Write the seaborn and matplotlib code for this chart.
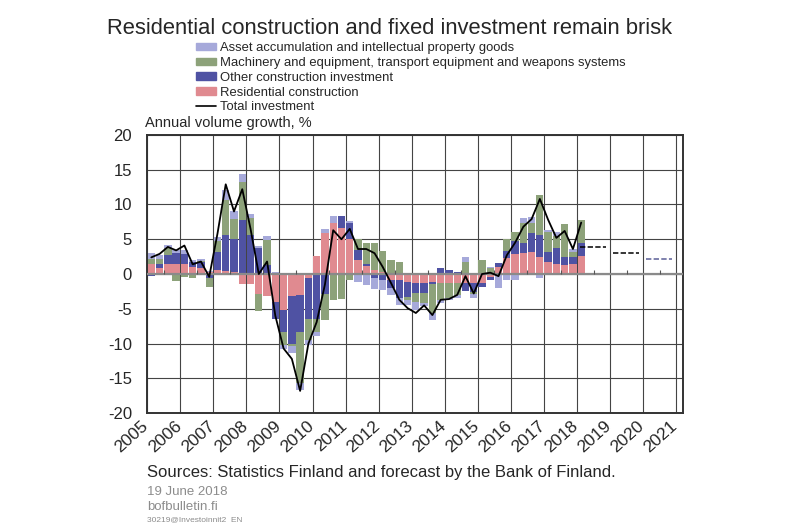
import numpy as np
import pandas as pd
import seaborn as sns
import matplotlib.pyplot as plt
from matplotlib.patches import Patch
from matplotlib.lines import Line2D
from matplotlib.transforms import ScaledTranslation

# Quarterly contributions, 2005Q1 - 2018Q1 (percentage points)
quarters = pd.period_range('2005Q1', '2018Q1', freq='Q')
residential = [1.5, 0.8, 1.5, 1.5, 1.4, 1.0, 0.8, 0.3, 0.6, 0.5, 0.3, -1.4,
               -1.4, -2.8, -3.2, -4.0, -5.1, -3.2, -3.0, -0.5, 2.6, 5.9, 7.3, 6.6,
               5.0, 2.0, 1.2, 0.6, 0.3, -0.8, -0.9, -1.1, -1.3, -1.3, -1.2, -1.3,
               -1.3, -1.3, -1.3, -1.3, -1.3, -0.4, 1.0, 2.3, 2.9, 3.0, 3.1, 2.4,
               1.7, 1.4, 1.3, 1.5, 2.6]
other_construction = [-0.3, 0.6, 1.2, 1.5, 1.5, 0.8, 1.0, -0.6, 2.5, 5.1, 4.7, 7.8,
                      5.6, 3.7, 1.3, -2.4, -3.2, -6.8, -5.3, -6.0, -6.5, -2.8, 0.0, 1.8,
                      2.3, 1.5, 0.3, -0.5, -0.8, -1.2, -2.6, -2.2, -1.4, -1.4, -0.2, 0.8,
                      0.6, 0.3, -1.2, -1.3, -0.6, -0.4, 0.6, 1.0, 1.8, 1.5, 2.8, 3.2,
                      1.4, 2.4, 1.2, 1.0, 1.8]
machinery = [0.7, 0.8, 1.0, -1.0, -0.4, -0.5, 0.1, -1.2, 1.6, 5.0, 2.9, 5.4,
             2.4, -2.5, 3.6, 0.2, -1.9, -0.4, -7.4, -3.0, -1.8, -3.8, -3.7, -3.6,
             -0.9, 1.6, 2.9, 3.8, 3.0, 2.0, 1.8, -0.5, -1.3, -1.4, -4.2, -2.4,
             -2.2, -1.7, 1.8, -0.3, 2.0, 0.8, -0.2, 1.7, 1.4, 2.9, 1.4, 5.8,
             2.9, 1.6, 4.7, 0.6, 3.4]
asset_ip = [0.8, 0.6, 0.5, 0.5, 0.5, 0.2, 0.2, 0.1, 0.6, 1.5, 1.1, 1.2,
            0.7, 0.3, 0.5, 0.1, -0.6, -0.9, -1.0, -0.7, -0.6, 0.6, 1.0, 0.0,
            0.3, -1.1, -1.6, -1.6, -1.5, -1.0, -1.0, -0.6, -1.1, -0.5, -1.0, -0.5,
            -0.2, -0.5, 0.7, -0.6, 0.0, 0.2, -1.8, -0.8, -0.9, 0.7, 0.9, -0.6,
            0.4, 0.6, 0.0, 0.5, -0.2]
total_investment = [2.4, 2.9, 3.9, 3.4, 4.1, 1.4, 1.8, -0.4, 5.8, 12.9, 9.0, 12.2,
                    6.5, 0.0, 1.8, -6.0, -10.7, -12.2, -16.8, -10.0, -6.9, -1.5, 6.3, 5.0,
                    6.5, 3.6, 3.6, 3.0, 1.0, -1.3, -3.7, -4.9, -5.6, -4.5, -5.9, -3.7,
                    -3.6, -3.0, -0.3, -2.8, 0.0, 0.2, -0.3, 2.7, 4.5, 6.8, 7.9, 10.8,
                    7.8, 5.2, 6.2, 3.6, 7.4]

# Bank of Finland forecast (annual)
forecast_years = [2018, 2019, 2020]
forecast_values = [3.9, 3.0, 2.2]
forecast_colors = ['black', 'black', '#5b5f97']

year_ticks = list(range(2005, 2022))

series = ['Residential construction', 'Other construction investment',
          'Machinery and equipment, transport equipment and weapons systems',
          'Asset accumulation and intellectual property goods']
colors = ['#e08a90', '#4f52a3', '#8da27a', '#a6a9da']

df = pd.DataFrame({'x': quarters.year + (quarters.quarter - 1) / 4 + 0.125})
for name, vals in zip(series, [residential, other_construction, machinery, asset_ip]):
    df[name] = vals
df['total'] = total_investment

# stacked positive / negative tops (drawn back to front)
pos = df[series].clip(lower=0).cumsum(axis=1)
neg = df[series].clip(upper=0).cumsum(axis=1)

sns.set_style('white')
plt.rcParams['font.family'] = ['Liberation Sans', 'DejaVu Sans']

fig = plt.figure(figsize=(8, 5.23), dpi=100)
ax = fig.add_axes([0.184, 0.21, 0.67, 0.532])

for i in range(len(series) - 1, -1, -1):
    for stack in (pos, neg):
        sns.barplot(x=df['x'], y=stack[series[i]], native_scale=True, width=0.88,
                    color=colors[i], saturation=1, errorbar=None, linewidth=0, ax=ax, zorder=2)

ax.axhline(0, color='#8a8a8a', lw=1.6, zorder=3)
ax.vlines(np.arange(2005, 2021) + 0.5, 0, 0.6, color='#555555', lw=0.8, zorder=3)

sns.lineplot(x=df['x'], y=df['total'], color='black', linewidth=1.3, ax=ax, zorder=4)

for yr, val, c in zip(forecast_years, forecast_values, forecast_colors):
    ax.plot([yr + 0.1, yr + 0.88], [val, val], color=c, lw=1.1, ls=(0, (3.5, 1.5)), zorder=4)

ax.set_xlim(2005, 2021.21)
ax.set_ylim(-20, 20)
ax.set_xticks(year_ticks)
ax.set_xticklabels([])
offset = ScaledTranslation(-6 / 100, -5 / 100, fig.dpi_scale_trans)
for yr in year_ticks:
    ax.text(yr, 0, str(yr), transform=ax.get_xaxis_transform() + offset, rotation=42,
            rotation_mode='anchor', ha='right', va='top', fontsize=12.5)
ax.set_yticks(range(-20, 21, 5))
ax.set_yticklabels([str(v) for v in range(-20, 21, 5)], fontsize=12)
ax.tick_params(axis='both', length=0)
ax.tick_params(axis='y', pad=11)
ax.grid(True, color='#444444', lw=0.8)
ax.set_axisbelow(True)
for s in ax.spines.values():
    s.set_color('#333333')
    s.set_linewidth(1.4)
ax.set_xlabel('')
ax.set_ylabel('')

fig.text(0.134, 0.946, 'Residential construction and fixed investment remain brisk',
         fontsize=15.8, va='center', ha='left')
fig.text(0.181, 0.765, 'Annual volume growth, %', fontsize=10.5, va='center', ha='left')

handles = [Patch(color=colors[3]), Patch(color=colors[2]), Patch(color=colors[1]),
           Patch(color=colors[0]), Line2D([], [], color='black', lw=1.2)]
labels = [series[3], series[2], series[1], series[0], 'Total investment']
fig.legend(handles, labels, loc='upper left', bbox_to_anchor=(0.245, 0.919), frameon=False,
           fontsize=9.4, handlelength=1.55, handleheight=0.5, handletextpad=0.3,
           labelspacing=0.21, borderpad=0, borderaxespad=0)

fig.text(0.184, 0.097, 'Sources: Statistics Finland and forecast by the Bank of Finland.',
         fontsize=12, va='center', ha='left')
fig.text(0.184, 0.059, '19 June 2018', fontsize=9.5, color='#8c8c8c', va='center')
fig.text(0.184, 0.030, 'bofbulletin.fi', fontsize=9.5, color='#8c8c8c', va='center')
fig.text(0.184, 0.006, '30219@Investoinnit2  EN', fontsize=6, color='#8c8c8c', va='center')

fig.savefig('out.png', dpi=100)
